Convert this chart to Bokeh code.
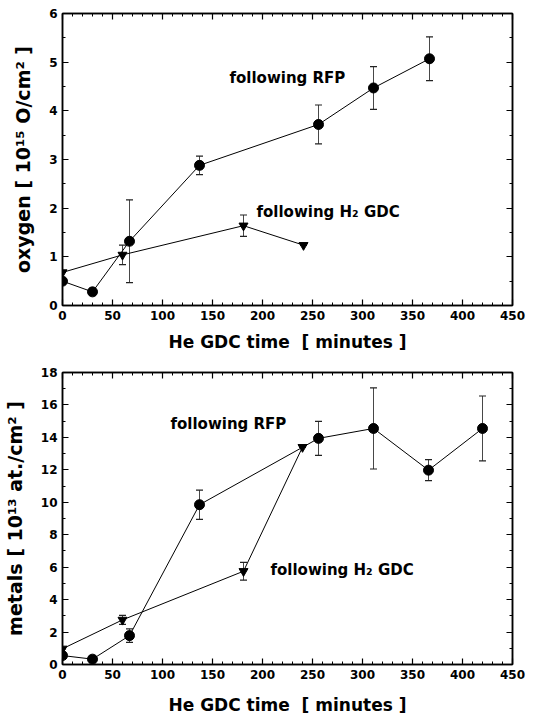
from bokeh.plotting import figure
from bokeh.models import (ColumnDataSource, Whisker, TeeHead, LinearAxis,
                          SingleIntervalTicker, Range1d)
from bokeh.layouts import column
from bokeh.embed import file_html
from bokeh.resources import INLINE
from bokeh.core.properties import value

# ---------------- data ----------------
x_ticks = [0, 50, 100, 150, 200, 250, 300, 350, 400, 450]

# oxygen, following RFP
t_rfp_o = [0, 30, 67, 137, 256, 311, 367]
o_rfp = [0.50, 0.28, 1.32, 2.88, 3.72, 4.47, 5.07]
o_rfp_err = [0.0, 0.07, 0.85, 0.19, 0.40, 0.44, 0.45]

# oxygen, following H2 GDC
t_h2_o = [0, 60, 181, 241]
o_h2 = [0.68, 1.04, 1.64, 1.24]
o_h2_err = [0.0, 0.20, 0.22, 0.0]

# metals, following RFP
t_rfp_m = [0, 30, 67, 137, 256, 311, 366, 420]
m_rfp = [0.55, 0.33, 1.78, 9.85, 13.94, 14.55, 11.98, 14.55]
m_rfp_err = [0.0, 0.15, 0.42, 0.90, 1.05, 2.50, 0.65, 2.00]

# metals, following H2 GDC
t_h2_m = [0, 60, 181, 240]
m_h2 = [0.97, 2.75, 5.75, 13.40]
m_h2_err = [0.0, 0.28, 0.55, 0.0]

X_TITLE = "He GDC time \u00a0[ minutes ]"
FONT = "DejaVu Sans"


def style_axis(ax, ticker, show_labels):
    ax.ticker = ticker
    ax.axis_line_color = "black"
    ax.axis_line_width = 1.5
    ax.major_tick_in = 6
    ax.major_tick_out = 0
    ax.minor_tick_in = 3
    ax.minor_tick_out = 0
    ax.major_tick_line_color = "black"
    ax.minor_tick_line_color = "black"
    ax.major_tick_line_width = 1.2
    ax.minor_tick_line_width = 1
    ax.major_label_text_font = FONT
    ax.major_label_text_font_style = "bold"
    if show_labels:
        ax.major_label_text_color = "black"
        ax.major_label_text_font_size = "12px"
        ax.major_label_standoff = 5
    else:
        ax.major_label_text_color = None
        ax.major_label_text_font_size = "1px"
        ax.major_label_standoff = 0
        ax.axis_label = None


def make_fig(height, ymax, ystep, border_top, border_bottom, ylabel,
             xlabel_standoff, series, labels):
    p = figure(width=533, height=height, output_backend="svg",
               toolbar_location=None,
               x_range=Range1d(0, 450), y_range=Range1d(0, ymax),
               min_border_left=59, min_border_right=21,
               min_border_top=border_top, min_border_bottom=border_bottom)
    p.grid.visible = False
    p.outline_line_color = "black"
    p.outline_line_width = 1.5
    p.background_fill_color = "white"
    p.border_fill_color = "white"

    style_axis(p.xaxis[0], SingleIntervalTicker(interval=50, num_minor_ticks=5), True)
    style_axis(p.yaxis[0], SingleIntervalTicker(interval=ystep, num_minor_ticks=2), True)
    p.xaxis[0].axis_label = X_TITLE
    p.yaxis[0].axis_label = ylabel
    for ax in (p.xaxis[0], p.yaxis[0]):
        ax.axis_label_text_font = FONT
        ax.axis_label_text_font_style = "bold"
        ax.axis_label_text_color = "black"
    p.xaxis[0].axis_label_text_font_size = "17px"
    p.yaxis[0].axis_label_text_font_size = "19px"
    p.xaxis[0].axis_label_standoff = xlabel_standoff
    p.yaxis[0].axis_label_standoff = 12

    top = LinearAxis()
    style_axis(top, SingleIntervalTicker(interval=50, num_minor_ticks=5), False)
    p.add_layout(top, "above")
    right = LinearAxis()
    style_axis(right, SingleIntervalTicker(interval=ystep, num_minor_ticks=2), False)
    p.add_layout(right, "right")

    for (xs, ys, errs, marker, size) in series:
        src = ColumnDataSource(dict(
            x=xs, y=ys,
            lo=[a - e for a, e in zip(ys, errs)],
            hi=[a + e for a, e in zip(ys, errs)]))
        w = Whisker(base="x", lower="lo", upper="hi", source=src,
                    dimension="height", line_color="#333333", line_width=0.9,
                    upper_head=TeeHead(size=7, line_color="#222222", line_width=1.2),
                    lower_head=TeeHead(size=7, line_color="#222222", line_width=1.2))
        p.add_layout(w)
        p.line("x", "y", source=src, line_color="black", line_width=1)
        p.scatter("x", "y", source=src, marker=marker, size=size,
                  fill_color="black", line_color="black")

    p.text(x=[l[0] for l in labels], y=[l[1] for l in labels],
           text=[l[2] for l in labels], text_font=value(FONT),
           text_font_style="bold", text_font_size="15px",
           text_baseline="middle", text_align="left", text_color="black")
    return p


p1 = make_fig(355, 6, 1, 13, 50, "oxygen [ 10\u00b9\u2075 O/cm\u00b2 ]", 9,
              [(t_rfp_o, o_rfp, o_rfp_err, "circle", 10),
               (t_h2_o, o_h2, o_h2_err, "inverted_triangle", 9)],
              [(167, 4.67, "following RFP"), (194, 1.92, "following H\u2082 GDC")])

p2 = make_fig(362, 18, 2, 17, 53, "metals [ 10\u00b9\u00b3 at./cm\u00b2 ]", 13,
              [(t_rfp_m, m_rfp, m_rfp_err, "circle", 10),
               (t_h2_m, m_h2, m_h2_err, "inverted_triangle", 9)],
              [(108, 14.85, "following RFP"), (208, 5.8, "following H\u2082 GDC")])

layout = column(p1, p2, spacing=0)
open("out.html", "w").write(file_html(layout, INLINE))
